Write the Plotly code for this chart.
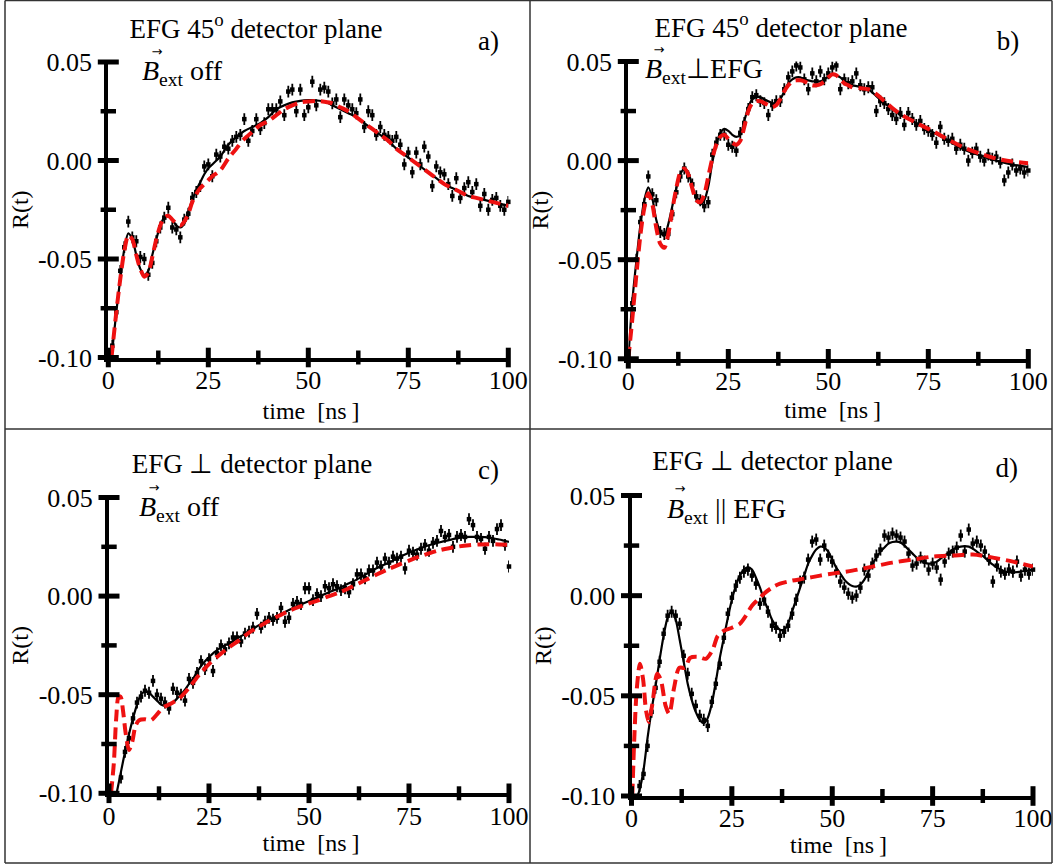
import plotly.graph_objects as go

# ---------------- data ----------------
T = list(range(1, 101))  # sampling times [ns]

# a) EFG 45 deg, B_ext off
A_DATA = [-0.094, -0.077, -0.056, -0.044, -0.031, -0.039, -0.041, -0.049, -0.050, -0.058,
          -0.052, -0.041, -0.034, -0.029, -0.024, -0.034, -0.035, -0.039, -0.030, -0.027,
          -0.019, -0.016, -0.013, -0.003, -0.002, -0.008, 0.003, 0.002, 0.007, 0.006,
          0.010, 0.012, 0.013, 0.021, 0.010, 0.015, 0.021, 0.016, 0.019, 0.026,
          0.026, 0.026, 0.030, 0.023, 0.035, 0.036, 0.025, 0.036, 0.023, 0.027,
          0.040, 0.028, 0.036, 0.037, 0.035, 0.029, 0.031, 0.022, 0.031, 0.028,
          0.026, 0.024, 0.031, 0.017, 0.025, 0.023, 0.013, 0.017, 0.013, 0.012,
          0.010, 0.012, 0.008, -0.002, 0.004, -0.006, 0.004, -0.002, 0.007, 0.002,
          -0.013, -0.003, -0.006, -0.007, -0.012, -0.018, -0.009, -0.019, -0.014, -0.011,
          -0.016, -0.012, -0.023, -0.017, -0.025, -0.020, -0.019, -0.023, -0.025, -0.021]
A_FIT_T = [0.8, 2, 3, 4, 5, 6, 7, 8, 9, 10, 11, 12, 13, 14, 15, 16, 17, 18, 19, 20,
           21, 22, 23, 24, 25, 26, 28, 30, 32, 34, 36, 38, 40, 42, 44, 46, 48, 50, 52, 54,
           56, 58, 60, 62, 64, 66, 68, 70, 72, 74, 76, 78, 80, 82, 84, 86, 88, 90, 92, 94,
           96, 98, 100]
A_FIT = [-0.100, -0.077, -0.060, -0.045, -0.037, -0.040, -0.048, -0.055, -0.058, -0.056,
         -0.048, -0.040, -0.033, -0.029, -0.028, -0.030, -0.033, -0.034, -0.032, -0.026,
         -0.020, -0.015, -0.011, -0.007, -0.004, -0.002, 0.002, 0.008, 0.012, 0.015,
         0.017, 0.019, 0.022, 0.026, 0.028, 0.0295, 0.0303, 0.0306, 0.0305, 0.030,
         0.028, 0.026, 0.024, 0.022, 0.019, 0.016, 0.013, 0.010, 0.006, 0.003,
         0.000, -0.003, -0.006, -0.009, -0.012, -0.014, -0.016, -0.018, -0.019, -0.020,
         -0.021, -0.022, -0.023]
A_ALT = [-0.100, -0.077, -0.060, -0.046, -0.038, -0.040, -0.048, -0.055, -0.059, -0.057,
         -0.049, -0.040, -0.033, -0.029, -0.028, -0.030, -0.032, -0.033, -0.031, -0.027,
         -0.021, -0.017, -0.014, -0.012, -0.010, -0.008, -0.005, 0.001, 0.006, 0.011,
         0.0145, 0.018, 0.020, 0.023, 0.026, 0.028, 0.0295, 0.030, 0.0302, 0.0298,
         0.029, 0.027, 0.025, 0.022, 0.019, 0.016, 0.013, 0.010, 0.006, 0.003,
         0.000, -0.003, -0.006, -0.009, -0.012, -0.014, -0.016, -0.018, -0.019, -0.020,
         -0.021, -0.022, -0.023]

# b) EFG 45 deg, B_ext perpendicular to EFG
B_DATA = [-0.072, -0.050, -0.031, -0.022, -0.008, -0.017, -0.020, -0.036, -0.037, -0.037,
          -0.027, -0.016, -0.008, -0.004, -0.008, -0.012, -0.018, -0.020, -0.023, -0.021,
          0.003, 0.009, 0.013, 0.013, 0.008, 0.007, 0.005, 0.014, 0.019, 0.026,
          0.032, 0.033, 0.030, 0.029, 0.023, 0.028, 0.030, 0.030, 0.036, 0.042,
          0.045, 0.048, 0.047, 0.041, 0.036, 0.044, 0.040, 0.045, 0.041, 0.044,
          0.047, 0.048, 0.036, 0.041, 0.039, 0.040, 0.044, 0.038, 0.036, 0.037,
          0.037, 0.025, 0.030, 0.029, 0.026, 0.023, 0.021, 0.024, 0.018, 0.024,
          0.021, 0.018, 0.020, 0.016, 0.015, 0.013, 0.009, 0.017, 0.011, 0.010,
          0.011, 0.006, 0.008, 0.006, 0.000, 0.004, 0.006, 0.002, 0.000, 0.003,
          0.001, 0.002, -0.001, -0.010, -0.006, -0.002, -0.005, -0.004, -0.006, -0.005]
B_FIT_T = [0, 1, 2, 3, 4, 5, 6, 7, 8, 9, 10, 11, 12, 13, 14, 15, 16, 17, 18, 19,
           20, 21, 22, 23, 24, 25, 26, 27, 28, 29, 30, 31, 32, 33, 34, 35, 36, 37, 38, 39,
           40, 41, 42, 43, 44, 45, 46, 47, 48, 49, 50, 51, 52, 53, 54, 55, 56,
           58, 60, 62, 64, 66, 68, 72, 76, 80, 84, 88, 92, 96, 100]
B_FIT = [-0.100, -0.071, -0.051, -0.033, -0.020, -0.0135, -0.019, -0.030, -0.036, -0.038,
         -0.032, -0.023, -0.014, -0.007, -0.004, -0.006, -0.013, -0.019, -0.022, -0.020,
         -0.013, -0.001, 0.008, 0.014, 0.016, 0.015, 0.013, 0.012, 0.013, 0.020,
         0.027, 0.031, 0.032, 0.032, 0.031, 0.030, 0.029, 0.029, 0.031, 0.035,
         0.039, 0.041, 0.042, 0.042, 0.041, 0.0405, 0.040, 0.040, 0.040, 0.041,
         0.0425, 0.0435, 0.043, 0.042, 0.040, 0.039, 0.038,
         0.0372, 0.036, 0.0325, 0.029, 0.026, 0.023, 0.019, 0.0145, 0.010, 0.0055,
         0.0025, 0.000, -0.002, -0.0033]
B_ALT = [-0.100, -0.080, -0.058, -0.038, -0.024, -0.0165, -0.022, -0.034, -0.042, -0.044,
         -0.037, -0.025, -0.014, -0.006, -0.004, -0.007, -0.014, -0.020, -0.021, -0.017,
         -0.008, 0.001, 0.008, 0.012, 0.013, 0.011, 0.009, 0.008, 0.010, 0.017,
         0.025, 0.029, 0.030, 0.030, 0.029, 0.028, 0.027, 0.028, 0.031, 0.035,
         0.038, 0.040, 0.0405, 0.0405, 0.040, 0.039, 0.038, 0.038, 0.0385, 0.040,
         0.042, 0.0435, 0.043, 0.041, 0.039, 0.038, 0.037,
         0.0365, 0.036, 0.0335, 0.030, 0.0265, 0.0235, 0.019, 0.015, 0.0105, 0.0065,
         0.0035, 0.001, -0.0005, -0.0013]

# c) EFG perpendicular to detector plane, B_ext off
C_DATA = [None, None, -0.092, -0.079, -0.072, -0.062, -0.054, -0.051, -0.048, -0.049,
          -0.043, -0.050, -0.052, -0.054, -0.057, -0.047, -0.049, -0.050, -0.053, -0.042,
          -0.044, -0.039, -0.033, -0.037, -0.032, -0.038, -0.029, -0.025, -0.027, -0.024,
          -0.021, -0.021, -0.023, -0.019, -0.018, -0.016, -0.009, -0.016, -0.013, -0.011,
          -0.012, -0.011, -0.006, -0.013, -0.011, -0.004, -0.003, -0.004, 0.004, 0.004,
          -0.002, 0.001, 0.000, 0.005, 0.004, 0.006, 0.005, 0.003, 0.004, 0.002,
          0.006, 0.011, 0.011, 0.009, 0.013, 0.013, 0.017, 0.015, 0.019, 0.017,
          0.020, 0.019, 0.020, 0.014, 0.023, 0.022, 0.021, 0.024, 0.026, 0.023,
          0.027, 0.028, 0.033, 0.030, 0.031, 0.025, 0.030, 0.031, 0.030, 0.039,
          0.036, 0.030, 0.029, 0.024, 0.030, 0.028, 0.034, 0.036, 0.026, 0.015]
C_FIT_T = [1.9, 3, 4, 5, 6, 7, 8, 9, 10, 11, 12, 13, 14, 15, 16, 17, 18, 19, 20, 21,
           22, 23, 24, 25, 26, 27, 28, 29, 30, 32, 35, 37.5, 40, 42.5, 45, 47.5, 50, 52.5,
           55, 57.5, 60, 62.5, 65, 67.5, 70, 72.5, 75, 77.5, 80, 82.5, 85, 87.5, 90, 92.5,
           95, 97.5, 100]
C_FIT = [-0.100, -0.089, -0.079, -0.070, -0.062, -0.055, -0.050, -0.0485, -0.049, -0.051,
         -0.053, -0.055, -0.0557, -0.0553, -0.054, -0.052, -0.050, -0.0475, -0.0445, -0.042,
         -0.0385, -0.0355, -0.033, -0.031, -0.029, -0.0275, -0.026, -0.025, -0.024, -0.0215,
         -0.018, -0.0147, -0.012, -0.0096, -0.007, -0.0046, -0.0025, -0.0003,
         0.002, 0.004, 0.0065, 0.009, 0.012, 0.0147, 0.017, 0.0197, 0.022, 0.024,
         0.0258, 0.0272, 0.0284, 0.0295, 0.030, 0.030, 0.0297, 0.0287, 0.0275]
C_ALT_T = [0.5, 1.2, 1.8, 2.4, 2.9, 3.5, 4.2, 5.0, 5.8, 6.6, 7.5, 9, 10.5, 12, 13.5, 15,
           17.5, 20, 22.5, 25, 27.5, 30, 32.5, 35, 37.5, 40, 42.5, 45, 47.5, 50, 52.5, 55,
           57.5, 60, 62.5, 65, 67.5, 70, 72.5, 75, 77.5, 80, 82.5, 85, 87.5, 90, 92.5, 95,
           97.5, 100]
C_ALT = [-0.100, -0.085, -0.062, -0.051, -0.051, -0.058, -0.070, -0.078, -0.074, -0.066,
         -0.063, -0.0625, -0.063, -0.060, -0.0565, -0.055,
         -0.052, -0.0465, -0.040, -0.0345, -0.030, -0.026, -0.0225, -0.0185, -0.0155, -0.0125,
         -0.010, -0.0075, -0.0055, -0.0037, -0.002, 0.000, 0.0018, 0.004, 0.0065, 0.009,
         0.0115, 0.0138, 0.016, 0.018, 0.020, 0.0217, 0.0232, 0.0243, 0.0252, 0.0258,
         0.0262, 0.0263, 0.0262, 0.026]

# d) EFG perpendicular to detector plane, B_ext parallel to EFG
D_DATA = [None, -0.095, -0.089, -0.075, -0.058, -0.046, -0.033, -0.019, -0.010, -0.008,
          -0.010, -0.014, -0.030, -0.039, -0.049, -0.055, -0.060, -0.062, -0.065, -0.053,
          -0.044, -0.034, -0.021, -0.009, -0.001, 0.005, 0.009, 0.012, 0.013, 0.010,
          0.006, -0.004, -0.002, -0.008, -0.015, -0.016, -0.020, -0.018, -0.015, -0.009,
          -0.002, 0.007, 0.009, 0.018, 0.027, 0.028, 0.018, 0.025, 0.020, 0.017,
          0.012, 0.007, 0.004, 0.001, -0.001, 0.000, 0.004, 0.013, 0.010, 0.016,
          0.020, 0.023, 0.030, 0.029, 0.031, 0.030, 0.029, 0.027, 0.021, 0.015,
          0.016, 0.019, 0.017, 0.013, 0.016, 0.014, 0.008, 0.017, 0.021, 0.022,
          0.024, 0.030, 0.022, 0.033, 0.026, 0.027, 0.025, 0.022, 0.018, 0.007,
          0.015, 0.012, 0.011, 0.013, 0.012, 0.017, 0.010, 0.013, 0.011, 0.013]
D_FIT_T = [1.5] + list(range(2, 101))
D_FIT = [-0.100, -0.097, -0.087, -0.071, -0.057, -0.045, -0.032, -0.020, -0.011, -0.008,
         -0.012, -0.022, -0.033, -0.044, -0.052, -0.058, -0.062, -0.0637, -0.061, -0.054,
         -0.043, -0.031, -0.021, -0.011, -0.002, 0.005, 0.010, 0.013, 0.0142, 0.013,
         0.009, 0.004, -0.002, -0.007, -0.012, -0.015, -0.017, -0.017, -0.014, -0.008,
         -0.002, 0.004, 0.010, 0.016, 0.020, 0.023, 0.0245, 0.024, 0.022, 0.018,
         0.014, 0.011, 0.008, 0.006, 0.0048, 0.0045, 0.0055, 0.008, 0.012, 0.016,
         0.019, 0.022, 0.024, 0.026, 0.0268, 0.027, 0.0265, 0.025, 0.023, 0.021,
         0.019, 0.0175, 0.0165, 0.016, 0.0162, 0.017, 0.0185, 0.020, 0.0215, 0.023,
         0.024, 0.0245, 0.0247, 0.0245, 0.0235, 0.022, 0.0205, 0.019, 0.017, 0.0155,
         0.014, 0.013, 0.012, 0.0118, 0.0117, 0.0118, 0.012, 0.0123, 0.0127, 0.013]
D_ALT_T = [0.2, 0.7, 1.3, 2.1, 2.9, 3.6, 4.3, 5.2, 6.4, 7.3, 8.5, 9.4, 10.6, 11.9, 13.3,
           14.6, 16.5, 18.5, 20.2, 21.5, 23, 25, 27, 28.5, 30, 31.5, 33, 35, 37, 40,
           43, 47, 50, 55, 60, 65, 70, 75, 80, 85, 90, 95, 100]
D_ALT = [-0.100, -0.071, -0.047, -0.034, -0.042, -0.057, -0.063, -0.054, -0.039, -0.042,
         -0.055, -0.059, -0.046, -0.036, -0.036, -0.031, -0.0305, -0.0315, -0.027, -0.020,
         -0.0175, -0.016, -0.014, -0.010, -0.005, -0.002, 0.001, 0.004, 0.006, 0.0075,
         0.0085, 0.010, 0.011, 0.0125, 0.0145, 0.0165, 0.018, 0.0195, 0.020, 0.0205,
         0.019, 0.017, 0.0145]

ERR = 0.003  # statistical error of each R(t) point

# axis ticks
X_MAJOR = [0, 25, 50, 75, 100]
X_MINOR = [12.5, 37.5, 62.5, 87.5]
X_LABELS = ["0", "25", "50", "75", "100"]
Y_MAJOR = [-0.10, -0.05, 0.00, 0.05]
Y_MINOR = [-0.075, -0.025, 0.025]
Y_LABELS = ["-0.10", "-0.05", "0.00", "0.05"]

TITLES = {
    "a": "EFG 45<sup>o</sup> detector plane",
    "b": "EFG 45<sup>o</sup> detector plane",
    "c": "EFG \u22a5 detector plane",
    "d": "EFG \u22a5 detector plane",
}
FIELD = {
    "a": "<i>B</i><sub>ext</sub> off",
    "b": "<i>B</i><sub>ext</sub>\u22a5EFG",
    "c": "<i>B</i><sub>ext</sub> off",
    "d": "<i>B</i><sub>ext</sub> || EFG",
}
X_TITLE = "time\u00a0\u00a0[ns\u2009]"
Y_TITLE = "R(t)"

# ---------------- layout geometry (pixels) ----------------
W, H = 1059, 868
FONT = "Liberation Serif"
RED = "#ee1111"

PANELS = {
    "a": dict(x0=108.3, x1=508.3, top=62.0, bot=357.5,
              title=(256, 31), tag=(488.5, 43), field=(142, 73), arrow=(157, 53),
              xlab=(311, 413)),
    "b": dict(x0=628.3, x1=1028.3, top=61.5, bot=358.8,
              title=(781, 30), tag=(1008, 43), field=(645, 71), arrow=(659, 51),
              xlab=(832.6, 412)),
    "c": dict(x0=109.0, x1=509.0, top=497.5, bot=793.3,
              title=(252, 466), tag=(488.5, 472), field=(139, 509), arrow=(154, 489),
              xlab=(311, 845)),
    "d": dict(x0=631.5, x1=1033.0, top=495.5, bot=796.0,
              title=(772.5, 463), tag=(1006.7, 470), field=(667, 511), arrow=(680, 490),
              xlab=(838.5, 847)),
}

SERIES = {
    "a": (A_DATA, A_FIT_T, A_FIT, A_FIT_T, A_ALT),
    "b": (B_DATA, B_FIT_T, B_FIT, B_FIT_T, B_ALT),
    "c": (C_DATA, C_FIT_T, C_FIT, C_ALT_T, C_ALT),
    "d": (D_DATA, D_FIT_T, D_FIT, D_ALT_T, D_ALT),
}


def px(x):
    return x / W


def py(y):
    return 1 - y / H


fig = go.Figure()
layout_axes = {}
tickfont = dict(family=FONT, size=26, color="black")
titlefont = dict(family=FONT, size=24, color="black")

for i, key in enumerate("abcd"):
    g = PANELS[key]
    n = "" if i == 0 else str(i + 1)
    xr, yr = "x" + n, "y" + n
    data, ft, fv, at, av = SERIES[key]

    # measured points with error bars
    fig.add_trace(go.Scatter(
        x=T, y=data, xaxis=xr, yaxis=yr, mode="markers",
        marker=dict(symbol="square", size=4.5, color="black"),
        error_y=dict(type="constant", value=ERR, color="black", thickness=1.8, width=0),
        cliponaxis=False, showlegend=False))
    # full fit
    fig.add_trace(go.Scatter(
        x=ft, y=fv, xaxis=xr, yaxis=yr, mode="lines",
        line=dict(color="black", width=2.2, shape="spline", smoothing=0.8),
        showlegend=False))
    # alternative model (dashed)
    fig.add_trace(go.Scatter(
        x=at, y=av, xaxis=xr, yaxis=yr, mode="lines",
        line=dict(color=RED, width=4, dash="12px,6px", shape="spline", smoothing=0.8),
        showlegend=False))

    # oval tick marks sitting on the axis lines
    fig.add_trace(go.Scatter(
        x=X_MAJOR, y=[Y_MAJOR[0]] * len(X_MAJOR), xaxis=xr, yaxis=yr, mode="markers",
        marker=dict(symbol="line-ns", size=14, line=dict(width=5, color="black")),
        cliponaxis=False, showlegend=False, hoverinfo="skip"))
    fig.add_trace(go.Scatter(
        x=X_MINOR, y=[Y_MAJOR[0]] * len(X_MINOR), xaxis=xr, yaxis=yr, mode="markers",
        marker=dict(symbol="line-ns", size=10, line=dict(width=4.5, color="black")),
        cliponaxis=False, showlegend=False, hoverinfo="skip"))
    fig.add_trace(go.Scatter(
        x=[X_MAJOR[0]] * len(Y_MAJOR), y=Y_MAJOR, xaxis=xr, yaxis=yr, mode="markers",
        marker=dict(symbol="line-ew", size=15, line=dict(width=5, color="black")),
        cliponaxis=False, showlegend=False, hoverinfo="skip"))
    fig.add_trace(go.Scatter(
        x=[X_MAJOR[0]] * len(Y_MINOR), y=Y_MINOR, xaxis=xr, yaxis=yr, mode="markers",
        marker=dict(symbol="line-ew", size=11, line=dict(width=4.5, color="black")),
        cliponaxis=False, showlegend=False, hoverinfo="skip"))

    layout_axes["xaxis" + n] = dict(
        domain=[px(g["x0"]), px(g["x1"])], range=[0, 100], anchor=yr,
        showline=True, linewidth=4, linecolor="black", showgrid=False, zeroline=False,
        tickvals=X_MAJOR, ticktext=X_LABELS, ticks="", ticklabelstandoff=-4,
        tickfont=tickfont, fixedrange=True, automargin=False)
    layout_axes["yaxis" + n] = dict(
        domain=[py(g["bot"]), py(g["top"])], range=[-0.10, 0.05], anchor=xr,
        showline=True, linewidth=4, linecolor="black", showgrid=False, zeroline=False,
        tickvals=Y_MAJOR, ticktext=Y_LABELS, ticks="outside", ticklen=7,
        tickcolor="rgba(0,0,0,0)", tickfont=tickfont, fixedrange=True, automargin=False,
        title=dict(text=Y_TITLE, font=titlefont, standoff=4))

# panel captions drawn as text on a full-page pixel overlay (x right, y down)
OV = dict(xaxis="x5", yaxis="y5", mode="text", showlegend=False, hoverinfo="skip",
          cliponaxis=False)
keys = list("abcd")


def captions(field, texts, size, position="middle center", family=FONT):
    fig.add_trace(go.Scatter(
        x=[PANELS[k][field][0] for k in keys], y=[PANELS[k][field][1] for k in keys],
        text=texts, textposition=position,
        textfont=dict(family=family, size=size, color="black"), **OV))


captions("title", [TITLES[k] for k in keys], 27)
captions("tag", [k + ")" for k in keys], 27)
captions("field", [FIELD[k] for k in keys], 28, position="middle right")
captions("arrow", ["\u2192"] * 4, 13, family="DejaVu Sans")
captions("xlab", [X_TITLE] * 4, 24)

layout_axes["xaxis5"] = dict(domain=[0, 1], range=[0, W], visible=False, fixedrange=True,
                             anchor="y5")
layout_axes["yaxis5"] = dict(domain=[0, 1], range=[H, 0], visible=False, fixedrange=True,
                             anchor="x5")

# panel frame lines
FRAME = [((5, 0.5), (5, 863)), ((1052, 0.5), (1052, 863)), ((5, 0.5), (1052, 0.5)),
         ((5, 863), (1052, 863)), ((530, 0.5), (530, 863)), ((5, 429), (1052, 429))]
shapes = [dict(type="line", xref="paper", yref="paper",
               x0=px(a[0]), y0=py(a[1]), x1=px(b[0]), y1=py(b[1]),
               line=dict(color="#333333", width=1.5)) for a, b in FRAME]

fig.update_layout(
    template="none",
    width=W, height=H, margin=dict(l=0, r=0, t=0, b=0, pad=0),
    paper_bgcolor="white", plot_bgcolor="rgba(0,0,0,0)",
    font=dict(family=FONT, color="black"),
    shapes=shapes, showlegend=False, hovermode=False,
    **layout_axes)

fig.write_html("out.html")
